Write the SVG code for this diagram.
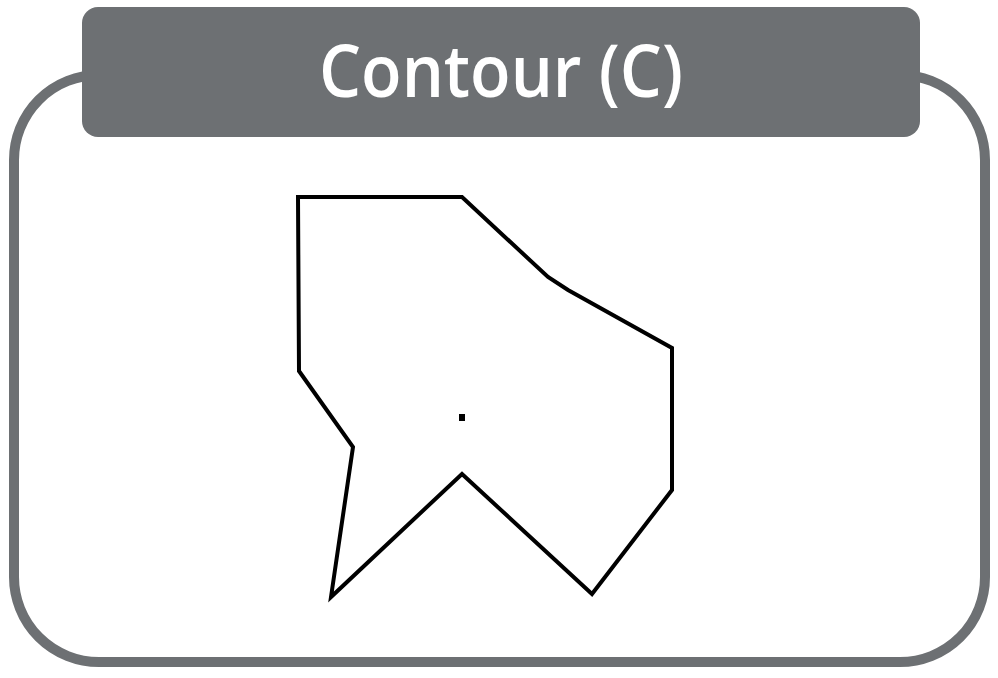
<svg xmlns="http://www.w3.org/2000/svg" width="998" height="678" viewBox="0 0 998 678">
<style>
.frame{fill:#ffffff;stroke:#6d7073;stroke-width:10}
.header{fill:#6d7073}
.title{fill:#ffffff;font-family:"Open Sans","Noto Sans","Liberation Sans",sans-serif;font-weight:600;font-size:72px}
.contour{fill:none;stroke:#000000;stroke-width:4;stroke-linejoin:miter;stroke-miterlimit:12}
</style>
<rect width="998" height="678" fill="#ffffff"/>
<g id="panel">
<rect class="frame" x="14" y="75" width="971" height="587" rx="85" ry="85"/>
<rect class="header" x="82" y="7" width="838" height="130" rx="16" ry="16"/>
<text class="title" x="501" y="97" text-anchor="middle" textLength="364" lengthAdjust="spacingAndGlyphs">Contour (C)</text>
</g>
<g id="contour-shape">
<polygon class="contour" points="298,197 462,197 548,277 568,290 672,348 672,490 592,594 462,474 331,597 353,447 299,371"/>
<rect x="459" y="414" width="6" height="7" fill="#000000"/>
</g>
</svg>
